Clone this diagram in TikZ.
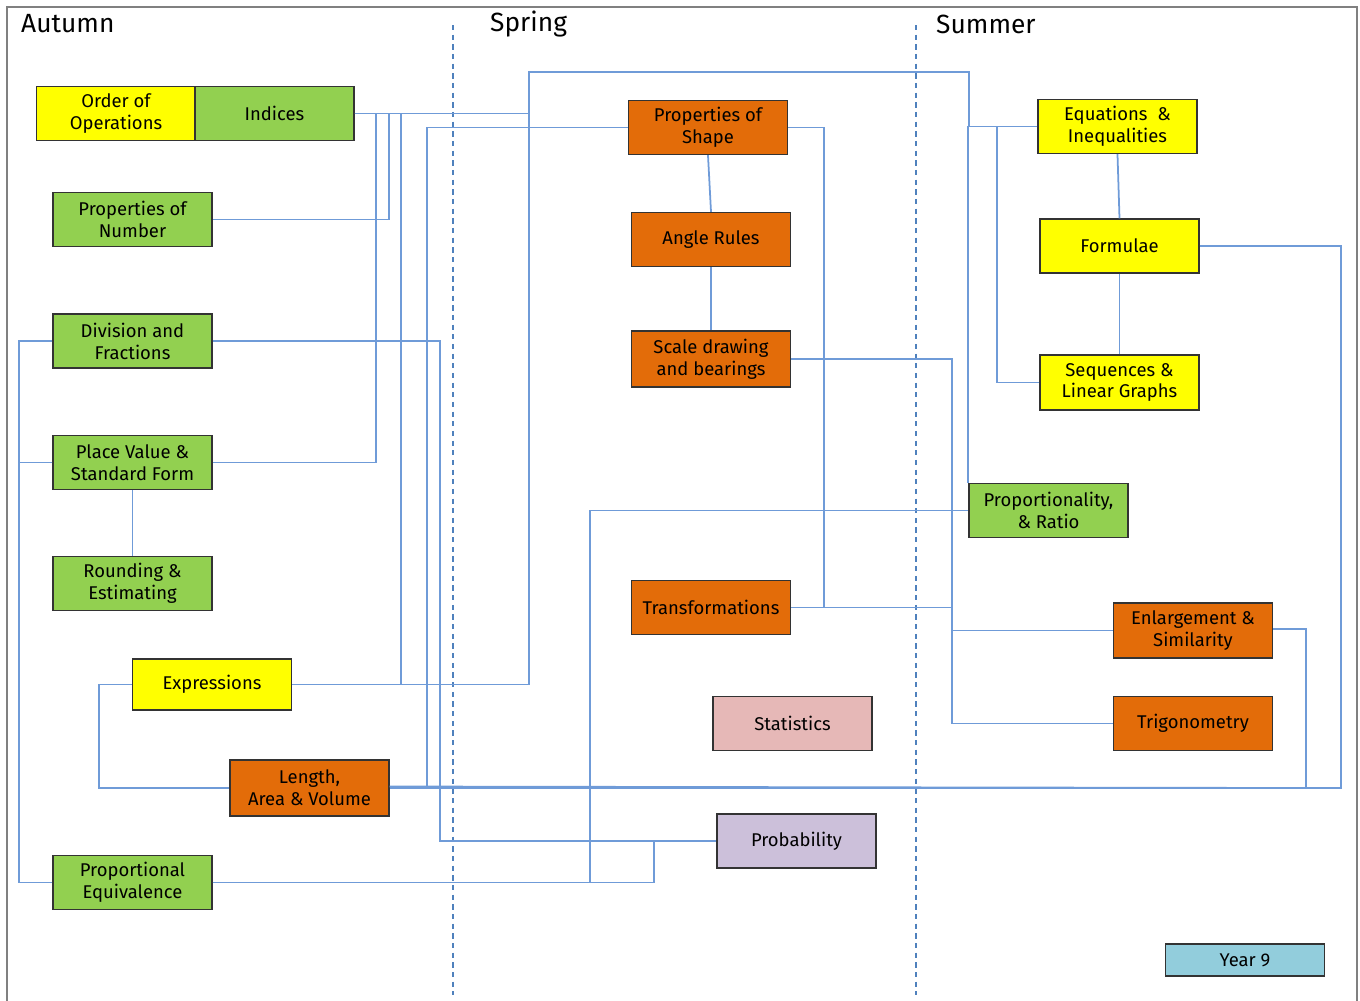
\documentclass[tikz,border=0pt]{standalone}
\usepackage{fontspec}
\setmainfont{Fira Sans}
\definecolor{ygreen}{HTML}{92D050}
\definecolor{yyellow}{HTML}{FFFF00}
\definecolor{yorange}{HTML}{E36C09}
\definecolor{ypink}{HTML}{E6B8B7}
\definecolor{ylilac}{HTML}{CCC0DA}
\definecolor{yblue}{HTML}{92CDDC}
\definecolor{linkblue}{HTML}{6F9BD8}
\definecolor{divblue}{HTML}{4F81BD}
\begin{document}
\begin{tikzpicture}[x=0.02cm,y=-0.02cm,
  topic/.style={draw=black!80,line width=0.8pt,minimum width=3.18cm,minimum height=1.08cm,align=center,inner sep=1pt,font=\fontsize{10.5}{12.5}\selectfont},
  link/.style={draw=linkblue,line width=1pt},
  divider/.style={draw=divblue,line width=0.6pt,dash pattern=on 3pt off 2.5pt},
  term/.style={anchor=west,font=\fontsize{15}{17}\selectfont}]
\useasboundingbox (0,0) rectangle (1360,1001);
\draw[gray,line width=0.8pt] (7,1001) -- (7,7) -- (1357,7) -- (1357,1001);
\draw[divider] (453,25) -- (453,995);
\draw[divider] (916,25) -- (916,995);
\node[term] (autumn) at (15,24) {Autumn};
\node[term] (spring) at (484,24) {Spring};
\node[term] (summer) at (930,24) {Summer};

\node[topic,fill=yyellow] (order) at (116,113.5) {Order of\\Operations};
\node[topic,fill=ygreen] (indices) at (274.5,113.5) {Indices};
\node[topic,fill=ygreen] (pnum) at (132.5,219.5) {Properties of\\Number};
\node[topic,fill=ygreen] (div) at (132.5,341) {Division and\\Fractions};
\node[topic,fill=ygreen] (pv) at (132.5,462.5) {Place Value \&\\Standard Form};
\node[topic,fill=ygreen] (round) at (132.5,583.5) {Rounding \&\\Estimating};
\node[topic,fill=yyellow,minimum height=1.02cm] (expr) at (212,684.5) {Expressions};
\node[topic,fill=yorange,minimum height=1.12cm] (len) at (309.5,788) {Length,\\Area \& Volume};
\node[topic,fill=ygreen] (pe) at (132.5,882.5) {Proportional\\Equivalence};
\node[topic,fill=yorange] (shape) at (708,127.5) {Properties of\\Shape};
\node[topic,fill=yorange] (angle) at (711,239.5) {Angle Rules};
\node[topic,fill=yorange,minimum height=1.12cm] (scale) at (711,359) {Scale drawing\\and bearings};
\node[topic,fill=yorange] (trans) at (711,607.5) {Transformations};
\node[topic,fill=ypink] (stats) at (792.5,723.5) {Statistics};
\node[topic,fill=ylilac] (prob) at (796.5,841) {Probability};
\node[topic,fill=yyellow] (eqn) at (1117.5,126.5) {Equations\ \ \&\\Inequalities};
\node[topic,fill=yyellow] (form) at (1119.5,246) {Formulae};
\node[topic,fill=yyellow,minimum height=1.1cm] (seq) at (1119.5,382.5) {Sequences \&\\Linear Graphs};
\node[topic,fill=ygreen] (ratio) at (1048.5,510.5) {Proportionality,\\\& Ratio};
\node[topic,fill=yorange,minimum height=1.1cm] (enl) at (1193,630.5) {Enlargement \&\\Similarity};
\node[topic,fill=yorange] (trig) at (1193,723.5) {Trigonometry};
\node[topic,fill=yblue,minimum height=0.64cm] (year) at (1245,960) {Year 9};

\draw[link] (indices.east) -| (376,0 |- pv.east) -- (pv.east);
\draw[link] (indices.east) -| (389,0 |- pnum.east) -- (pnum.east);
\draw[link] (indices.east) -| (401,0 |- expr.east) -- (expr.east);
\draw[link] (indices.east) -| (529,0 |- expr.east) -- (expr.east);
\draw[link] (expr.east) -| (529,72) -| (969,0 |- eqn.west) -- (eqn.west);
\draw[link] (ratio.north west) -- (ratio.north west |- eqn.west) -- (eqn.west);
\draw[link] (eqn.west) -| (997,0 |- seq.west) -- (seq.west);
\draw[link] (eqn.south) -- (form.north);
\draw[link] (form.south) -- (seq.north);
\draw[link] (form.east) -| (1341,0 |- len.east) -- (len.east);
\draw[link] ([yshift=0.03cm]enl.east) -| (1306,0 |- len.east) -- ([yshift=0.03cm]len.east);
\draw[link] (shape.south) -- (angle.north);
\draw[link] (angle.south) -- (scale.north);
\draw[link] (shape.east) -| (824,0 |- trans.east) -- (trans.east);
\draw[link] (trans.east) -| (952,0 |- enl.west) -- (enl.west);
\draw[link] (scale.east) -| (952,0 |- trig.west) -- (trig.west);
\draw[link] (shape.west) -| (427,0 |- len.east) -- (len.east);
\draw[link] (div.east) -| (440,0 |- prob.west) -- (prob.west);
\draw[link] (div.west) -| (19,0 |- pe.west) -- (pe.west);
\draw[link] (pv.west) -- (19,0 |- pv.west);
\draw[link] (pv.south) -- (round.north);
\draw[link] (expr.west) -| (99,0 |- len.west) -- (len.west);
\draw[link] (pe.east) -| (590,0 |- ratio.west) -- (ratio.west);
\draw[link] (pe.east) -| (654,0 |- prob.west) -- (prob.west);
\end{tikzpicture}
\end{document}
